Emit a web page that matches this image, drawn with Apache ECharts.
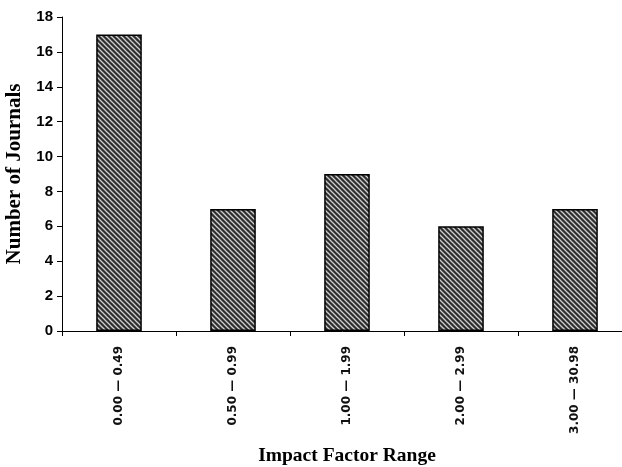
<!DOCTYPE html>
<html>
<head>
<meta charset="utf-8">
<script src="https://cdn.jsdelivr.net/npm/echarts@6/dist/echarts.min.js"></script>
<style>
html,body{margin:0;padding:0;background:#fff;}
#chart{width:622px;height:467px;}
</style>
</head>
<body>
<div id="chart"></div>
<script>
var categories = ['0.00 — 0.49', '0.50 — 0.99', '1.00 — 1.99', '2.00 — 2.99', '3.00 — 30.98'];
var journalCounts = [17, 7, 9, 6, 7];
var yTicks = [0, 2, 4, 6, 8, 10, 12, 14, 16, 18];

function makeHatch() {
  var s = 5;
  var c = document.createElement('canvas');
  c.width = s; c.height = s;
  var ctx = c.getContext('2d');
  ctx.fillStyle = '#2e2e2e';
  ctx.fillRect(0, 0, s, s);
  ctx.strokeStyle = '#cfcfcf';
  ctx.lineWidth = 1.3;
  for (var k = -1; k <= 1; k++) {
    ctx.beginPath();
    ctx.moveTo(-1 + k * s, -1);
    ctx.lineTo(s + 1 + k * s, s + 1);
    ctx.stroke();
  }
  return c;
}

var chart = echarts.init(document.getElementById('chart'), null, {renderer: 'canvas'});
chart.setOption({
  animation: false,
  backgroundColor: '#fff',
  grid: {left: 62, top: 17, right: -10, bottom: 136, containLabel: false, outerBoundsMode: 'none'},
  xAxis: {
    type: 'category',
    data: categories,
    name: 'Impact Factor Range',
    nameLocation: 'middle',
    nameGap: 115,
    nameTextStyle: {fontFamily: 'Liberation Serif', fontWeight: 'bold', fontSize: 19.5, color: '#000'},
    axisLine: {lineStyle: {color: '#000', width: 1}},
    axisTick: {show: true, length: 5, inside: false, lineStyle: {color: '#000'}},
    axisLabel: {rotate: 90, margin: 15, fontFamily: 'DejaVu Sans', fontWeight: 'bold', fontSize: 12, color: '#111'}
  },
  yAxis: {
    type: 'value',
    min: yTicks[0],
    max: yTicks[yTicks.length - 1],
    interval: 2,
    name: 'Number of Journals',
    nameLocation: 'middle',
    nameRotate: 90,
    nameGap: 28,
    nameTextStyle: {fontFamily: 'Liberation Serif', fontWeight: 'bold', fontSize: 21, color: '#000'},
    axisLine: {show: true, lineStyle: {color: '#000', width: 1}},
    axisTick: {show: true, length: 5, inside: false, lineStyle: {color: '#000'}},
    axisLabel: {margin: 9, fontFamily: 'Liberation Sans', fontWeight: 'bold', fontSize: 15, color: '#000'},
    splitLine: {show: false}
  },
  series: [{
    type: 'bar',
    data: journalCounts,
    barWidth: '40%',
    itemStyle: {
      color: {image: makeHatch(), repeat: 'repeat'},
      borderColor: '#000',
      borderWidth: 1.5
    }
  }]
});
</script>
</body>
</html>
